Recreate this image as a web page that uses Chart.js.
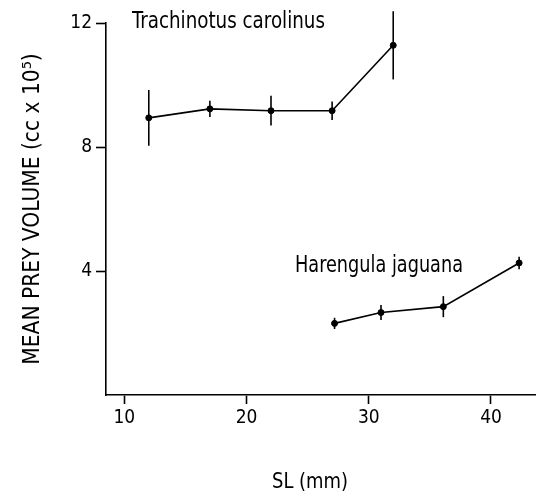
<!DOCTYPE html>
<html>
<head>
<meta charset="utf-8">
<script src="https://cdn.jsdelivr.net/npm/chart.js@4/dist/chart.umd.min.js"></script>
<style>
html,body{margin:0;padding:0;background:#fff;}
#wrap{width:543px;height:496px;position:relative;}
</style>
</head>
<body>
<div id="wrap"><canvas id="c"></canvas></div>
<script>
// Data
const trachSL   = [12, 17, 22, 27, 32];
const trachVol  = [8.94, 9.23, 9.17, 9.17, 11.28];
const trachErr  = [0.90, 0.26, 0.48, 0.30, 1.10];
const harenSL   = [27.2, 31.0, 36.1, 42.3];
const harenVol  = [2.31, 2.66, 2.85, 4.26];
const harenErr  = [0.18, 0.24, 0.34, 0.20];
const xTicks    = [10, 20, 30, 40];
const yTicks    = [4, 8, 12];
const seriesNames = ['Trachinotus carolinus', 'Harengula jaguana'];
const xTitle = 'SL (mm)';
const yTitle = 'MEAN PREY VOLUME (cc x 10\u2075)';

const FONT = '"Liberation Sans Narrow", "DejaVu Sans Condensed", "Arial Narrow", sans-serif';

function pts(xs, ys, es) {
  return xs.map((x, i) => ({x: x, y: ys[i], e: es[i]}));
}

const errorBars = {
  id: 'errorBars',
  afterDatasetsDraw(chart) {
    const ctx = chart.ctx;
    const xs = chart.scales.x, ys = chart.scales.y;
    ctx.save();
    ctx.strokeStyle = '#000';
    ctx.lineWidth = 1.6;
    chart.data.datasets.forEach(ds => {
      ds.data.forEach(p => {
        const px = xs.getPixelForValue(p.x);
        ctx.beginPath();
        ctx.moveTo(px, ys.getPixelForValue(p.y - p.e));
        ctx.lineTo(px, ys.getPixelForValue(p.y + p.e));
        ctx.stroke();
      });
    });
    ctx.restore();
  }
};

// draw text left/center anchored, horizontally compressed to a target width
function drawFit(ctx, text, x, y, width, size, align) {
  ctx.save();
  ctx.font = size + 'px ' + FONT;
  const w = ctx.measureText(text).width;
  const sx = Math.min(1, width / w);
  ctx.translate(x, y);
  ctx.scale(sx, 1);
  ctx.textAlign = align;
  ctx.fillText(text, 0, 0);
  ctx.restore();
}

const labels = {
  id: 'labels',
  afterDraw(chart) {
    const ctx = chart.ctx;
    ctx.save();
    ctx.fillStyle = '#000';
    ctx.textBaseline = 'alphabetic';
    drawFit(ctx, seriesNames[0], 132, 28, 193, 23, 'left');
    drawFit(ctx, seriesNames[1], 295, 272, 168, 23, 'left');
    drawFit(ctx, xTitle, 310, 488, 76, 22, 'center');
    ctx.restore();
  }
};

new Chart(document.getElementById('c'), {
  type: 'line',
  data: {
    datasets: [
      { label: seriesNames[0], data: pts(trachSL, trachVol, trachErr) },
      { label: seriesNames[1], data: pts(harenSL, harenVol, harenErr) }
    ]
  },
  options: {
    responsive: true,
    maintainAspectRatio: false,
    animation: false,
    layout: { padding: { top: 23, right: 8, left: 0, bottom: 0 } },
    elements: {
      line: { borderColor: '#000', borderWidth: 1.6, tension: 0, fill: false },
      point: { radius: 3, backgroundColor: '#000', borderColor: '#000', pointStyle: 'circle', borderWidth: 1 }
    },
    plugins: { legend: { display: false }, tooltip: { enabled: false } },
    scales: {
      x: {
        type: 'linear',
        min: 8.5,
        max: 43.6,
        afterBuildTicks: s => { s.ticks = xTicks.map(v => ({value: v})); },
        afterFit: s => { s.height = 101; },
        grid: { drawOnChartArea: false, drawTicks: true, tickLength: 9, tickColor: '#000', tickWidth: 1.6 },
        border: { color: '#000', width: 1.6 },
        ticks: { color: '#000', font: { family: FONT, size: 19 }, padding: 3, maxRotation: 0 }
      },
      y: {
        type: 'linear',
        min: 0,
        max: 12,
        afterBuildTicks: s => { s.ticks = yTicks.map(v => ({value: v})); },
        afterFit: s => { s.width = 106; },
        grid: { drawOnChartArea: false, drawTicks: true, tickLength: 10, tickColor: '#000', tickWidth: 1.6 },
        border: { color: '#000', width: 1.6 },
        ticks: { color: '#000', font: { family: FONT, size: 19 }, padding: 4 },
        title: { display: true, text: yTitle, color: '#000', font: { family: FONT, size: 22.5 }, padding: { top: 20, bottom: 0 } }
      }
    }
  },
  plugins: [errorBars, labels]
});
</script>
</body>
</html>
